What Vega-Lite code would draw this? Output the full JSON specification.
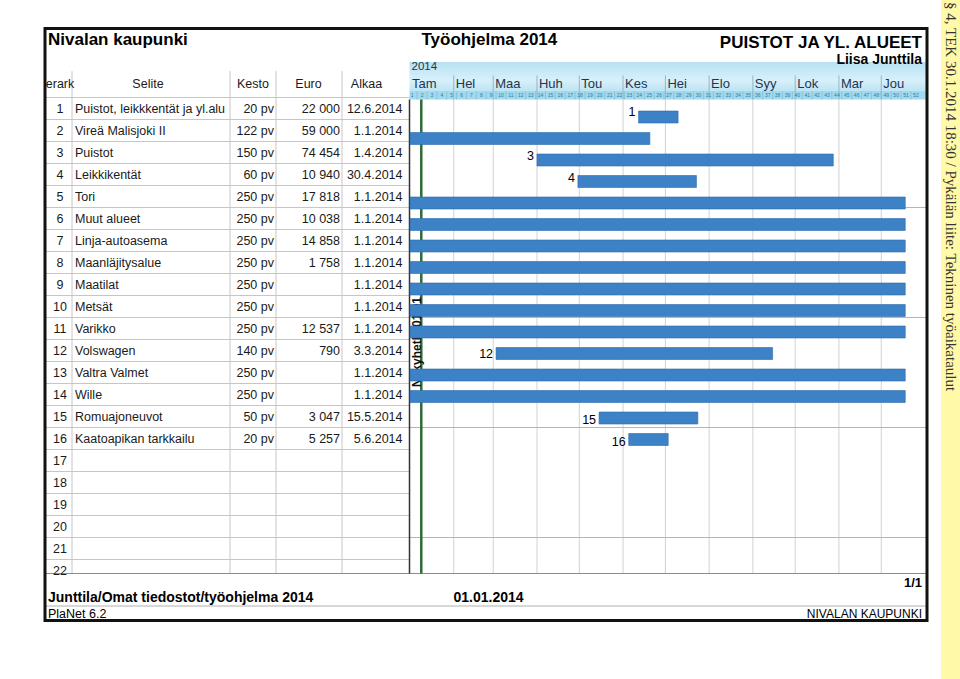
{
  "$schema": "https://vega.github.io/schema/vega-lite/v6.json",
  "width": 960,
  "height": 679,
  "autosize": {"type": "none"},
  "padding": 0,
  "background": "white",
  "config": {"view": {"stroke": null}, "font": "Liberation Sans", "text": {"font": "Liberation Sans", "color": "#1a1a1a"}},
  "datasets": {
    "tasks": [
      {"row": 1, "name": "Puistot, leikkkentät ja yl.alueet", "kesto": "20 pv", "euro": "22 000", "alkaa": "12.6.2014", "start": "2014-06-12", "end": "2014-07-10"},
      {"row": 2, "name": "Vireä Malisjoki II", "kesto": "122 pv", "euro": "59 000", "alkaa": "1.1.2014", "start": "2014-01-01", "end": "2014-06-20"},
      {"row": 3, "name": "Puistot", "kesto": "150 pv", "euro": "74 454", "alkaa": "1.4.2014", "start": "2014-04-01", "end": "2014-10-28"},
      {"row": 4, "name": "Leikkikentät", "kesto": "60 pv", "euro": "10 940", "alkaa": "30.4.2014", "start": "2014-04-30", "end": "2014-07-23"},
      {"row": 5, "name": "Tori", "kesto": "250 pv", "euro": "17 818", "alkaa": "1.1.2014", "start": "2014-01-01", "end": "2014-12-18"},
      {"row": 6, "name": "Muut alueet", "kesto": "250 pv", "euro": "10 038", "alkaa": "1.1.2014", "start": "2014-01-01", "end": "2014-12-18"},
      {"row": 7, "name": "Linja-autoasema", "kesto": "250 pv", "euro": "14 858", "alkaa": "1.1.2014", "start": "2014-01-01", "end": "2014-12-18"},
      {"row": 8, "name": "Maanläjitysalue", "kesto": "250 pv", "euro": "1 758", "alkaa": "1.1.2014", "start": "2014-01-01", "end": "2014-12-18"},
      {"row": 9, "name": "Maatilat", "kesto": "250 pv", "euro": "", "alkaa": "1.1.2014", "start": "2014-01-01", "end": "2014-12-18"},
      {"row": 10, "name": "Metsät", "kesto": "250 pv", "euro": "", "alkaa": "1.1.2014", "start": "2014-01-01", "end": "2014-12-18"},
      {"row": 11, "name": "Varikko", "kesto": "250 pv", "euro": "12 537", "alkaa": "1.1.2014", "start": "2014-01-01", "end": "2014-12-18"},
      {"row": 12, "name": "Volswagen", "kesto": "140 pv", "euro": "790", "alkaa": "3.3.2014", "start": "2014-03-03", "end": "2014-09-15"},
      {"row": 13, "name": "Valtra Valmet", "kesto": "250 pv", "euro": "", "alkaa": "1.1.2014", "start": "2014-01-01", "end": "2014-12-18"},
      {"row": 14, "name": "Wille", "kesto": "250 pv", "euro": "", "alkaa": "1.1.2014", "start": "2014-01-01", "end": "2014-12-18"},
      {"row": 15, "name": "Romuajoneuvot", "kesto": "50 pv", "euro": "3 047", "alkaa": "15.5.2014", "start": "2014-05-15", "end": "2014-07-24"},
      {"row": 16, "name": "Kaatoapikan tarkkailu", "kesto": "20 pv", "euro": "5 257", "alkaa": "5.6.2014", "start": "2014-06-05", "end": "2014-07-03"},
      {"row": 17, "name": "", "kesto": "", "euro": "", "alkaa": ""},
      {"row": 18, "name": "", "kesto": "", "euro": "", "alkaa": ""},
      {"row": 19, "name": "", "kesto": "", "euro": "", "alkaa": ""},
      {"row": 20, "name": "", "kesto": "", "euro": "", "alkaa": ""},
      {"row": 21, "name": "", "kesto": "", "euro": "", "alkaa": ""},
      {"row": 22, "name": "", "kesto": "", "euro": "", "alkaa": ""}
    ],
    "columns": [
      {"col": 0, "header": "erark"},
      {"col": 1, "header": "Selite"},
      {"col": 2, "header": "Kesto"},
      {"col": 3, "header": "Euro"},
      {"col": 4, "header": "Alkaa"}
    ],
    "months": [
      {"m": "Tam", "date": "2014-01-01"}, {"m": "Hel", "date": "2014-02-01"}, {"m": "Maa", "date": "2014-03-01"},
      {"m": "Huh", "date": "2014-04-01"}, {"m": "Tou", "date": "2014-05-01"}, {"m": "Kes", "date": "2014-06-01"},
      {"m": "Hei", "date": "2014-07-01"}, {"m": "Elo", "date": "2014-08-01"}, {"m": "Syy", "date": "2014-09-01"},
      {"m": "Lok", "date": "2014-10-01"}, {"m": "Mar", "date": "2014-11-01"}, {"m": "Jou", "date": "2014-12-01"}
    ],
    "weeks": [
      {"w": 1, "start": "2013-12-30"}, {"w": 2, "start": "2014-01-06"}, {"w": 3, "start": "2014-01-13"}, {"w": 4, "start": "2014-01-20"},
      {"w": 5, "start": "2014-01-27"}, {"w": 6, "start": "2014-02-03"}, {"w": 7, "start": "2014-02-10"}, {"w": 8, "start": "2014-02-17"},
      {"w": 9, "start": "2014-02-24"}, {"w": 10, "start": "2014-03-03"}, {"w": 11, "start": "2014-03-10"}, {"w": 12, "start": "2014-03-17"},
      {"w": 13, "start": "2014-03-24"}, {"w": 14, "start": "2014-03-31"}, {"w": 15, "start": "2014-04-07"}, {"w": 16, "start": "2014-04-14"},
      {"w": 17, "start": "2014-04-21"}, {"w": 18, "start": "2014-04-28"}, {"w": 19, "start": "2014-05-05"}, {"w": 20, "start": "2014-05-12"},
      {"w": 21, "start": "2014-05-19"}, {"w": 22, "start": "2014-05-26"}, {"w": 23, "start": "2014-06-02"}, {"w": 24, "start": "2014-06-09"},
      {"w": 25, "start": "2014-06-16"}, {"w": 26, "start": "2014-06-23"}, {"w": 27, "start": "2014-06-30"}, {"w": 28, "start": "2014-07-07"},
      {"w": 29, "start": "2014-07-14"}, {"w": 30, "start": "2014-07-21"}, {"w": 31, "start": "2014-07-28"}, {"w": 32, "start": "2014-08-04"},
      {"w": 33, "start": "2014-08-11"}, {"w": 34, "start": "2014-08-18"}, {"w": 35, "start": "2014-08-25"}, {"w": 36, "start": "2014-09-01"},
      {"w": 37, "start": "2014-09-08"}, {"w": 38, "start": "2014-09-15"}, {"w": 39, "start": "2014-09-22"}, {"w": 40, "start": "2014-09-29"},
      {"w": 41, "start": "2014-10-06"}, {"w": 42, "start": "2014-10-13"}, {"w": 43, "start": "2014-10-20"}, {"w": 44, "start": "2014-10-27"},
      {"w": 45, "start": "2014-11-03"}, {"w": 46, "start": "2014-11-10"}, {"w": 47, "start": "2014-11-17"}, {"w": 48, "start": "2014-11-24"},
      {"w": 49, "start": "2014-12-01"}, {"w": 50, "start": "2014-12-08"}, {"w": 51, "start": "2014-12-15"}, {"w": 52, "start": "2014-12-22"}
    ],
    "now": [{"label": "Nykyhetki 01.01", "date": "2014-01-09"}],
    "parts": [
      {"part": "strip"}, {"part": "band"}, {"part": "weekrow"}, {"part": "bottomline"},
      {"part": "separator"}, {"part": "ganttBorder"}, {"part": "frame"}
    ],
    "doc": [
      {"key": "org", "text": "Nivalan kaupunki"},
      {"key": "plan", "text": "Työohjelma 2014"},
      {"key": "unit", "text": "PUISTOT JA YL. ALUEET"},
      {"key": "author", "text": "Liisa Junttila"},
      {"key": "year", "text": "2014"},
      {"key": "page", "text": "1/1"},
      {"key": "path", "text": "Junttila/Omat tiedostot/työohjelma 2014"},
      {"key": "printed", "text": "01.01.2014"},
      {"key": "app", "text": "PlaNet 6.2"},
      {"key": "footerOrg", "text": "NIVALAN KAUPUNKI"},
      {"key": "side", "text": "§ 4, TEK 30.1.2014 18:30 / Pykälän liite: Tekninen työaikataulut"}
    ]
  },
  "layer": [
    {
      "data": {"name": "parts"},
      "transform": [{"filter": "datum.part === 'strip'"}],
      "mark": {"type": "rect", "fill": "#fff9a8"},
      "encoding": {
        "x": {"datum": 7, "type": "quantitative", "scale": {"domain": [0,1,2,3,4,5,6,7,8], "range": [45,72,230,276,342,409.5,927,941,960], "nice": false, "zero": false}, "axis": null},
        "x2": {"datum": 8},
        "y": {"datum": -3.932, "type": "quantitative", "scale": {"domain": [1, 21], "range": [108.5, 548.5], "nice": false, "zero": false}, "axis": null},
        "y2": {"datum": 26.932}
      }
    },
    {
      "data": {"name": "doc"},
      "transform": [{"filter": "datum.key === 'side'"}],
      "mark": {"type": "text", "angle": 90, "align": "left", "baseline": "middle", "font": "Liberation Serif", "fontSize": 15, "color": "#333333"},
      "encoding": {
        "text": {"field": "text", "type": "nominal"},
        "x": {"datum": 7.5, "type": "quantitative", "scale": {"domain": [0,1,2,3,4,5,6,7,8], "range": [45,72,230,276,342,409.5,927,941,960], "nice": false, "zero": false}, "axis": null},
        "y": {"datum": -3.841, "type": "quantitative", "scale": {"domain": [1, 21], "range": [108.5, 548.5], "nice": false, "zero": false}, "axis": null}
      }
    },
    {
      "data": {"name": "parts"},
      "transform": [{"filter": "datum.part === 'band'"}],
      "mark": {"type": "rect", "fill": {"gradient": "linear", "x1": 0, "y1": 0, "x2": 0, "y2": 1, "stops": [{"offset": 0, "color": "#b6e1f3"}, {"offset": 0.35, "color": "#c9eaf7"}, {"offset": 0.65, "color": "#d8f0fa"}, {"offset": 1, "color": "#bde4f4"}]}},
      "encoding": {
        "x": {"datum": 5, "type": "quantitative", "scale": {"domain": [0,1,2,3,4,5,6,7,8], "range": [45,72,230,276,342,409.5,927,941,960], "nice": false, "zero": false}, "axis": null},
        "x2": {"datum": 6},
        "y": {"datum": -1.114, "type": "quantitative", "scale": {"domain": [1, 21], "range": [108.5, 548.5], "nice": false, "zero": false}, "axis": null},
        "y2": {"datum": 0.182}
      }
    },
    {
      "data": {"name": "parts"},
      "transform": [{"filter": "datum.part === 'weekrow'"}],
      "mark": {"type": "rect", "fill": "#a2d9ee"},
      "encoding": {
        "x": {"datum": 5, "type": "quantitative", "scale": {"domain": [0,1,2,3,4,5,6,7,8], "range": [45,72,230,276,342,409.5,927,941,960], "nice": false, "zero": false}, "axis": null},
        "x2": {"datum": 6},
        "y": {"datum": 0.182, "type": "quantitative", "scale": {"domain": [1, 21], "range": [108.5, 548.5], "nice": false, "zero": false}, "axis": null},
        "y2": {"datum": 0.591}
      }
    },
    {
      "data": {"name": "months"},
      "transform": [{"filter": "datum.m !== 'Tam'"}],
      "mark": {"type": "rule", "color": "#95b6c6", "strokeWidth": 1},
      "encoding": {
        "x": {"field": "date", "type": "temporal", "scale": {"type": "utc", "domain": [1388534400000, 1420070400000], "range": [410, 925], "nice": false}, "axis": null},
        "y": {"datum": -0.5, "type": "quantitative", "scale": {"domain": [1, 21], "range": [108.5, 548.5], "nice": false, "zero": false}, "axis": null},
        "y2": {"datum": 0.591}
      }
    },
    {
      "data": {"name": "weeks"},
      "transform": [{"filter": "datum.w > 1"}],
      "mark": {"type": "rule", "color": "#7db5ca", "strokeWidth": 0.6},
      "encoding": {
        "x": {"field": "start", "type": "temporal", "scale": {"type": "utc", "domain": [1388534400000, 1420070400000], "range": [410, 925], "nice": false}, "axis": null},
        "y": {"datum": 0.23, "type": "quantitative", "scale": {"domain": [1, 21], "range": [108.5, 548.5], "nice": false, "zero": false}, "axis": null},
        "y2": {"datum": 0.591}
      }
    },
    {
      "data": {"name": "weeks"},
      "mark": {"type": "text", "align": "center", "baseline": "middle", "fontSize": 5, "xOffset": 5, "color": "#2a7ea2"},
      "encoding": {
        "text": {"field": "w", "type": "nominal"},
        "x": {"field": "start", "type": "temporal", "scale": {"type": "utc", "domain": [1388534400000, 1420070400000], "range": [410, 925], "nice": false}, "axis": null},
        "y": {"datum": 0.4, "type": "quantitative", "scale": {"domain": [1, 21], "range": [108.5, 548.5], "nice": false, "zero": false}, "axis": null}
      }
    },
    {
      "data": {"name": "doc"},
      "transform": [{"filter": "datum.key === 'year'"}],
      "mark": {"type": "text", "align": "left", "baseline": "middle", "fontSize": 11.5, "dx": 2, "color": "#1d3550"},
      "encoding": {
        "text": {"field": "text", "type": "nominal"},
        "x": {"datum": 5, "type": "quantitative", "scale": {"domain": [0,1,2,3,4,5,6,7,8], "range": [45,72,230,276,342,409.5,927,941,960], "nice": false, "zero": false}, "axis": null},
        "y": {"datum": -0.864, "type": "quantitative", "scale": {"domain": [1, 21], "range": [108.5, 548.5], "nice": false, "zero": false}, "axis": null}
      }
    },
    {
      "data": {"name": "months"},
      "mark": {"type": "text", "align": "left", "baseline": "middle", "fontSize": 13, "dx": 2, "color": "#1d3550"},
      "encoding": {
        "text": {"field": "m", "type": "nominal"},
        "x": {"field": "date", "type": "temporal", "scale": {"type": "utc", "domain": [1388534400000, 1420070400000], "range": [410, 925], "nice": false}, "axis": null},
        "y": {"datum": -0.114, "type": "quantitative", "scale": {"domain": [1, 21], "range": [108.5, 548.5], "nice": false, "zero": false}, "axis": null}
      }
    },
    {
      "data": {"name": "months"},
      "transform": [{"filter": "datum.m !== 'Tam'"}],
      "mark": {"type": "rule", "color": "#d2d2d2", "strokeWidth": 1},
      "encoding": {
        "x": {"field": "date", "type": "temporal", "scale": {"type": "utc", "domain": [1388534400000, 1420070400000], "range": [410, 925], "nice": false}, "axis": null},
        "y": {"datum": 0.591, "type": "quantitative", "scale": {"domain": [1, 21], "range": [108.5, 548.5], "nice": false, "zero": false}, "axis": null},
        "y2": {"datum": 22.136}
      }
    },
    {
      "data": {"name": "tasks"},
      "transform": [{"filter": "datum.row % 5 === 0 && datum.row <= 20"}],
      "mark": {"type": "rule", "color": "#b5b5b5", "strokeWidth": 1, "yOffset": 11, "y2Offset": 11},
      "encoding": {
        "x": {"datum": 5, "type": "quantitative", "scale": {"domain": [0,1,2,3,4,5,6,7,8], "range": [45,72,230,276,342,409.5,927,941,960], "nice": false, "zero": false}, "axis": null},
        "x2": {"datum": 6},
        "y": {"field": "row", "type": "quantitative", "scale": {"domain": [1, 21], "range": [108.5, 548.5], "nice": false, "zero": false}, "axis": null}
      }
    },
    {
      "data": {"name": "tasks"},
      "mark": {"type": "rule", "color": "#c6c6c6", "strokeWidth": 1, "yOffset": -11, "y2Offset": -11},
      "encoding": {
        "x": {"datum": 0, "type": "quantitative", "scale": {"domain": [0,1,2,3,4,5,6,7,8], "range": [45,72,230,276,342,409.5,927,941,960], "nice": false, "zero": false}, "axis": null},
        "x2": {"datum": 5},
        "y": {"field": "row", "type": "quantitative", "scale": {"domain": [1, 21], "range": [108.5, 548.5], "nice": false, "zero": false}, "axis": null}
      }
    },
    {
      "data": {"name": "columns"},
      "transform": [{"filter": "datum.col > 0"}],
      "mark": {"type": "rule", "color": "#c6c6c6", "strokeWidth": 1},
      "encoding": {
        "x": {"field": "col", "type": "quantitative", "scale": {"domain": [0,1,2,3,4,5,6,7,8], "range": [45,72,230,276,342,409.5,927,941,960], "nice": false, "zero": false}, "axis": null},
        "y": {"datum": -0.7, "type": "quantitative", "scale": {"domain": [1, 21], "range": [108.5, 548.5], "nice": false, "zero": false}, "axis": null},
        "y2": {"datum": 22.136}
      }
    },
    {
      "data": {"name": "parts"},
      "transform": [{"filter": "datum.part === 'bottomline'"}],
      "mark": {"type": "rule", "color": "#8c8c8c", "strokeWidth": 1},
      "encoding": {
        "x": {"datum": 0, "type": "quantitative", "scale": {"domain": [0,1,2,3,4,5,6,7,8], "range": [45,72,230,276,342,409.5,927,941,960], "nice": false, "zero": false}, "axis": null},
        "x2": {"datum": 6},
        "y": {"datum": 22.136, "type": "quantitative", "scale": {"domain": [1, 21], "range": [108.5, 548.5], "nice": false, "zero": false}, "axis": null}
      }
    },
    {
      "data": {"name": "parts"},
      "transform": [{"filter": "datum.part === 'separator'"}],
      "mark": {"type": "rule", "color": "#b0b0b0", "strokeWidth": 1},
      "encoding": {
        "x": {"datum": 0, "type": "quantitative", "scale": {"domain": [0,1,2,3,4,5,6,7,8], "range": [45,72,230,276,342,409.5,927,941,960], "nice": false, "zero": false}, "axis": null},
        "x2": {"datum": 6},
        "y": {"datum": 23.614, "type": "quantitative", "scale": {"domain": [1, 21], "range": [108.5, 548.5], "nice": false, "zero": false}, "axis": null}
      }
    },
    {
      "data": {"name": "parts"},
      "transform": [{"filter": "datum.part === 'ganttBorder'"}],
      "mark": {"type": "rule", "color": "#333333", "strokeWidth": 1.5},
      "encoding": {
        "x": {"datum": 5, "type": "quantitative", "scale": {"domain": [0,1,2,3,4,5,6,7,8], "range": [45,72,230,276,342,409.5,927,941,960], "nice": false, "zero": false}, "axis": null},
        "y": {"datum": 0.591, "type": "quantitative", "scale": {"domain": [1, 21], "range": [108.5, 548.5], "nice": false, "zero": false}, "axis": null},
        "y2": {"datum": 22.136}
      }
    },
    {
      "data": {"name": "now"},
      "mark": {"type": "rule", "color": "#2f6b35", "strokeWidth": 2.5},
      "encoding": {
        "x": {"field": "date", "type": "temporal", "scale": {"type": "utc", "domain": [1388534400000, 1420070400000], "range": [410, 925], "nice": false}, "axis": null},
        "y": {"datum": 0.591, "type": "quantitative", "scale": {"domain": [1, 21], "range": [108.5, 548.5], "nice": false, "zero": false}, "axis": null},
        "y2": {"datum": 22.136}
      }
    },
    {
      "data": {"name": "now"},
      "mark": {"type": "text", "angle": 270, "align": "center", "baseline": "middle", "fontSize": 12, "fontWeight": "bold", "xOffset": -4.5, "color": "#111111"},
      "encoding": {
        "text": {"field": "label", "type": "nominal"},
        "x": {"field": "date", "type": "temporal", "scale": {"type": "utc", "domain": [1388534400000, 1420070400000], "range": [410, 925], "nice": false}, "axis": null},
        "y": {"datum": 11.614, "type": "quantitative", "scale": {"domain": [1, 21], "range": [108.5, 548.5], "nice": false, "zero": false}, "axis": null}
      }
    },
    {
      "data": {"name": "tasks"},
      "transform": [{"filter": "datum.alkaa !== ''"}],
      "mark": {"type": "bar", "size": 12, "yOffset": 3.5, "color": "#3d82c6", "stroke": "#2e6aa9", "strokeWidth": 0.6},
      "encoding": {
        "x": {"field": "start", "type": "temporal", "scale": {"type": "utc", "domain": [1388534400000, 1420070400000], "range": [410, 925], "nice": false}, "axis": null},
        "x2": {"field": "end"},
        "y": {"field": "row", "type": "quantitative", "scale": {"domain": [1, 21], "range": [108.5, 548.5], "nice": false, "zero": false}, "axis": null}
      }
    },
    {
      "data": {"name": "tasks"},
      "transform": [{"filter": "datum.alkaa !== '' && datum.alkaa !== '1.1.2014'"}],
      "mark": {"type": "text", "align": "right", "baseline": "middle", "fontSize": 12.5, "dx": -3, "yOffset": 3.5, "color": "#000000"},
      "encoding": {
        "text": {"field": "row", "type": "nominal"},
        "x": {"field": "start", "type": "temporal", "scale": {"type": "utc", "domain": [1388534400000, 1420070400000], "range": [410, 925], "nice": false}, "axis": null},
        "y": {"field": "row", "type": "quantitative", "scale": {"domain": [1, 21], "range": [108.5, 548.5], "nice": false, "zero": false}, "axis": null}
      }
    },
    {
      "data": {"name": "columns"},
      "mark": {"type": "text", "align": "center", "baseline": "middle", "fontSize": 12.5},
      "encoding": {
        "text": {"field": "header", "type": "nominal"},
        "x": {"field": "col", "type": "quantitative", "scale": {"domain": [0,1,2,3,4], "range": [60,148,253,308.5,366.5], "nice": false, "zero": false}, "axis": null},
        "y": {"datum": -0.136, "type": "quantitative", "scale": {"domain": [1, 21], "range": [108.5, 548.5], "nice": false, "zero": false}, "axis": null}
      }
    },
    {
      "data": {"name": "tasks"},
      "mark": {"type": "text", "align": "center", "baseline": "middle", "fontSize": 12.5},
      "encoding": {
        "text": {"field": "row", "type": "nominal"},
        "x": {"datum": 0, "type": "quantitative", "scale": {"domain": [0,1,2,3,4], "range": [60,148,253,308.5,366.5], "nice": false, "zero": false}, "axis": null},
        "y": {"field": "row", "type": "quantitative", "scale": {"domain": [1, 21], "range": [108.5, 548.5], "nice": false, "zero": false}, "axis": null}
      }
    },
    {
      "data": {"name": "tasks"},
      "mark": {"type": "text", "align": "left", "baseline": "middle", "fontSize": 12.5, "dx": 3, "limit": 158, "ellipsis": " "},
      "encoding": {
        "text": {"field": "name", "type": "nominal"},
        "x": {"datum": 1, "type": "quantitative", "scale": {"domain": [0,1,2,3,4,5,6,7,8], "range": [45,72,230,276,342,409.5,927,941,960], "nice": false, "zero": false}, "axis": null},
        "y": {"field": "row", "type": "quantitative", "scale": {"domain": [1, 21], "range": [108.5, 548.5], "nice": false, "zero": false}, "axis": null}
      }
    },
    {
      "data": {"name": "tasks"},
      "mark": {"type": "text", "align": "right", "baseline": "middle", "fontSize": 12.5, "dx": -2},
      "encoding": {
        "text": {"field": "kesto", "type": "nominal"},
        "x": {"datum": 3, "type": "quantitative", "scale": {"domain": [0,1,2,3,4,5,6,7,8], "range": [45,72,230,276,342,409.5,927,941,960], "nice": false, "zero": false}, "axis": null},
        "y": {"field": "row", "type": "quantitative", "scale": {"domain": [1, 21], "range": [108.5, 548.5], "nice": false, "zero": false}, "axis": null}
      }
    },
    {
      "data": {"name": "tasks"},
      "mark": {"type": "text", "align": "right", "baseline": "middle", "fontSize": 12.5, "dx": -2},
      "encoding": {
        "text": {"field": "euro", "type": "nominal"},
        "x": {"datum": 4, "type": "quantitative", "scale": {"domain": [0,1,2,3,4,5,6,7,8], "range": [45,72,230,276,342,409.5,927,941,960], "nice": false, "zero": false}, "axis": null},
        "y": {"field": "row", "type": "quantitative", "scale": {"domain": [1, 21], "range": [108.5, 548.5], "nice": false, "zero": false}, "axis": null}
      }
    },
    {
      "data": {"name": "tasks"},
      "mark": {"type": "text", "align": "right", "baseline": "middle", "fontSize": 12.5, "dx": -7},
      "encoding": {
        "text": {"field": "alkaa", "type": "nominal"},
        "x": {"datum": 5, "type": "quantitative", "scale": {"domain": [0,1,2,3,4,5,6,7,8], "range": [45,72,230,276,342,409.5,927,941,960], "nice": false, "zero": false}, "axis": null},
        "y": {"field": "row", "type": "quantitative", "scale": {"domain": [1, 21], "range": [108.5, 548.5], "nice": false, "zero": false}, "axis": null}
      }
    },
    {
      "data": {"name": "doc"},
      "transform": [{"filter": "datum.key === 'org'"}],
      "mark": {"type": "text", "align": "left", "baseline": "middle", "fontSize": 17, "fontWeight": "bold", "dx": 3, "color": "#000000"},
      "encoding": {
        "text": {"field": "text", "type": "nominal"},
        "x": {"datum": 0, "type": "quantitative", "scale": {"domain": [0,1,2,3,4,5,6,7,8], "range": [45,72,230,276,342,409.5,927,941,960], "nice": false, "zero": false}, "axis": null},
        "y": {"datum": -2.091, "type": "quantitative", "scale": {"domain": [1, 21], "range": [108.5, 548.5], "nice": false, "zero": false}, "axis": null}
      }
    },
    {
      "data": {"name": "doc"},
      "transform": [{"filter": "datum.key === 'plan'"}],
      "mark": {"type": "text", "align": "left", "baseline": "middle", "fontSize": 17, "fontWeight": "bold", "dx": 12, "color": "#000000"},
      "encoding": {
        "text": {"field": "text", "type": "nominal"},
        "x": {"datum": 5, "type": "quantitative", "scale": {"domain": [0,1,2,3,4,5,6,7,8], "range": [45,72,230,276,342,409.5,927,941,960], "nice": false, "zero": false}, "axis": null},
        "y": {"datum": -2.091, "type": "quantitative", "scale": {"domain": [1, 21], "range": [108.5, 548.5], "nice": false, "zero": false}, "axis": null}
      }
    },
    {
      "data": {"name": "doc"},
      "transform": [{"filter": "datum.key === 'unit'"}],
      "mark": {"type": "text", "align": "right", "baseline": "middle", "fontSize": 17, "fontWeight": "bold", "dx": -5, "color": "#000000"},
      "encoding": {
        "text": {"field": "text", "type": "nominal"},
        "x": {"datum": 6, "type": "quantitative", "scale": {"domain": [0,1,2,3,4,5,6,7,8], "range": [45,72,230,276,342,409.5,927,941,960], "nice": false, "zero": false}, "axis": null},
        "y": {"datum": -1.977, "type": "quantitative", "scale": {"domain": [1, 21], "range": [108.5, 548.5], "nice": false, "zero": false}, "axis": null}
      }
    },
    {
      "data": {"name": "doc"},
      "transform": [{"filter": "datum.key === 'author'"}],
      "mark": {"type": "text", "align": "right", "baseline": "middle", "fontSize": 14, "fontWeight": "bold", "dx": -5, "color": "#000000"},
      "encoding": {
        "text": {"field": "text", "type": "nominal"},
        "x": {"datum": 6, "type": "quantitative", "scale": {"domain": [0,1,2,3,4,5,6,7,8], "range": [45,72,230,276,342,409.5,927,941,960], "nice": false, "zero": false}, "axis": null},
        "y": {"datum": -1.227, "type": "quantitative", "scale": {"domain": [1, 21], "range": [108.5, 548.5], "nice": false, "zero": false}, "axis": null}
      }
    },
    {
      "data": {"name": "doc"},
      "transform": [{"filter": "datum.key === 'page'"}],
      "mark": {"type": "text", "align": "right", "baseline": "middle", "fontSize": 13, "fontWeight": "bold", "dx": -5, "color": "#000000"},
      "encoding": {
        "text": {"field": "text", "type": "nominal"},
        "x": {"datum": 6, "type": "quantitative", "scale": {"domain": [0,1,2,3,4,5,6,7,8], "range": [45,72,230,276,342,409.5,927,941,960], "nice": false, "zero": false}, "axis": null},
        "y": {"datum": 22.568, "type": "quantitative", "scale": {"domain": [1, 21], "range": [108.5, 548.5], "nice": false, "zero": false}, "axis": null}
      }
    },
    {
      "data": {"name": "doc"},
      "transform": [{"filter": "datum.key === 'path'"}],
      "mark": {"type": "text", "align": "left", "baseline": "middle", "fontSize": 14, "fontWeight": "bold", "dx": 3, "color": "#000000"},
      "encoding": {
        "text": {"field": "text", "type": "nominal"},
        "x": {"datum": 0, "type": "quantitative", "scale": {"domain": [0,1,2,3,4,5,6,7,8], "range": [45,72,230,276,342,409.5,927,941,960], "nice": false, "zero": false}, "axis": null},
        "y": {"datum": 23.25, "type": "quantitative", "scale": {"domain": [1, 21], "range": [108.5, 548.5], "nice": false, "zero": false}, "axis": null}
      }
    },
    {
      "data": {"name": "doc"},
      "transform": [{"filter": "datum.key === 'printed'"}],
      "mark": {"type": "text", "align": "left", "baseline": "middle", "fontSize": 14, "fontWeight": "bold", "dx": 44, "color": "#000000"},
      "encoding": {
        "text": {"field": "text", "type": "nominal"},
        "x": {"datum": 5, "type": "quantitative", "scale": {"domain": [0,1,2,3,4,5,6,7,8], "range": [45,72,230,276,342,409.5,927,941,960], "nice": false, "zero": false}, "axis": null},
        "y": {"datum": 23.25, "type": "quantitative", "scale": {"domain": [1, 21], "range": [108.5, 548.5], "nice": false, "zero": false}, "axis": null}
      }
    },
    {
      "data": {"name": "doc"},
      "transform": [{"filter": "datum.key === 'app'"}],
      "mark": {"type": "text", "align": "left", "baseline": "middle", "fontSize": 12.5, "dx": 3, "color": "#000000"},
      "encoding": {
        "text": {"field": "text", "type": "nominal"},
        "x": {"datum": 0, "type": "quantitative", "scale": {"domain": [0,1,2,3,4,5,6,7,8], "range": [45,72,230,276,342,409.5,927,941,960], "nice": false, "zero": false}, "axis": null},
        "y": {"datum": 23.955, "type": "quantitative", "scale": {"domain": [1, 21], "range": [108.5, 548.5], "nice": false, "zero": false}, "axis": null}
      }
    },
    {
      "data": {"name": "doc"},
      "transform": [{"filter": "datum.key === 'footerOrg'"}],
      "mark": {"type": "text", "align": "right", "baseline": "middle", "fontSize": 12, "dx": -5, "color": "#000000"},
      "encoding": {
        "text": {"field": "text", "type": "nominal"},
        "x": {"datum": 6, "type": "quantitative", "scale": {"domain": [0,1,2,3,4,5,6,7,8], "range": [45,72,230,276,342,409.5,927,941,960], "nice": false, "zero": false}, "axis": null},
        "y": {"datum": 23.955, "type": "quantitative", "scale": {"domain": [1, 21], "range": [108.5, 548.5], "nice": false, "zero": false}, "axis": null}
      }
    },
    {
      "data": {"name": "parts"},
      "transform": [{"filter": "datum.part === 'frame'"}],
      "mark": {"type": "rect", "fillOpacity": 0, "stroke": "#111111", "strokeWidth": 3},
      "encoding": {
        "x": {"datum": 0, "type": "quantitative", "scale": {"domain": [0,1,2,3,4,5,6,7,8], "range": [45,72,230,276,342,409.5,927,941,960], "nice": false, "zero": false}, "axis": null},
        "x2": {"datum": 6},
        "y": {"datum": -2.636, "type": "quantitative", "scale": {"domain": [1, 21], "range": [108.5, 548.5], "nice": false, "zero": false}, "axis": null},
        "y2": {"datum": 24.273}
      }
    }
  ],
  "resolve": {"scale": {"x": "independent", "y": "independent"}}
}
